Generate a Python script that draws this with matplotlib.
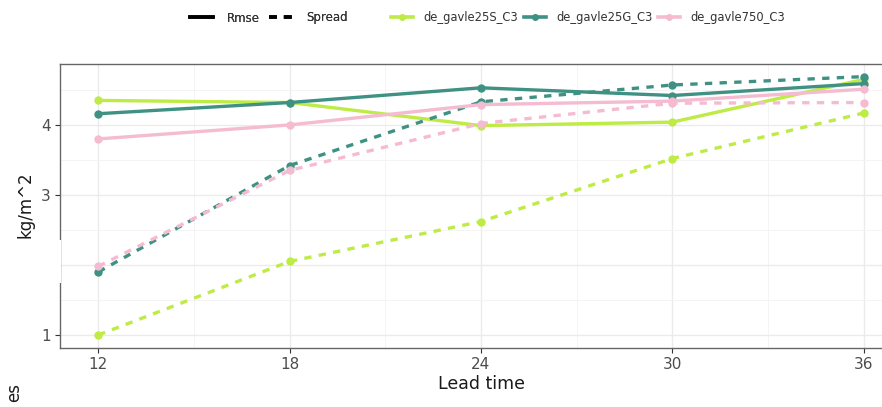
import matplotlib
matplotlib.use("Agg")
import matplotlib.pyplot as plt
from matplotlib.lines import Line2D
from matplotlib.patches import Rectangle

# data
lead_time = [12, 18, 24, 30, 36]
models = ["de_gavle25S_C3", "de_gavle25G_C3", "de_gavle750_C3"]
colours = ["#BEEB45", "#3E9183", "#F5BBD0"]

rmse_25S = [4.35, 4.32, 3.99, 4.04, 4.65]
rmse_25G = [4.16, 4.32, 4.53, 4.42, 4.59]
rmse_750 = [3.80, 4.00, 4.29, 4.34, 4.51]

spread_25S = [1.00, 2.05, 2.62, 3.52, 4.17]
spread_25G = [1.90, 3.42, 4.33, 4.57, 4.69]
spread_750 = [1.98, 3.35, 4.02, 4.31, 4.32]

rmse = [rmse_25S, rmse_25G, rmse_750]
spread = [spread_25S, spread_25G, spread_750]

W, H = 882, 407
fig = plt.figure(figsize=(W / 100, H / 100), dpi=100)

# panel runs past the right edge like in the screenshot
ax = fig.add_axes([60 / W, (H - 348) / H, 842 / W, 284 / H])

dash = (0, (2.2, 2.2))
for i in range(3):
    ax.plot(lead_time, rmse[i], color=colours[i], lw=2.4, marker="o", ms=5,
            zorder=3)
    ax.plot(lead_time, spread[i], color=colours[i], lw=2.4, marker="o", ms=5,
            linestyle=dash, zorder=3)

ax.set_xlim(10.8, 37.2)
ax.set_ylim(0.814, 4.87)
ax.set_xticks(lead_time)
ax.set_xticks([15, 21, 27, 33], minor=True)
ax.set_yticks([1, 2, 3, 4])
ax.set_yticks([1.5, 2.5, 3.5, 4.5], minor=True)
ax.grid(which="major", color="#ebebeb", lw=1.0, zorder=0)
ax.grid(which="minor", color="#f3f3f3", lw=0.6, zorder=0)
ax.set_axisbelow(True)
ax.tick_params(axis="both", which="major", length=3.5, color="#333333",
               labelcolor="#4d4d4d", labelsize=11, pad=3)
ax.tick_params(which="minor", length=0)
for s in ax.spines.values():
    s.set_color("#666666")
    s.set_linewidth(1.0)

ax.set_xlabel("Lead time", fontsize=12.5, color="#1a1a1a", labelpad=2)

# y label (partly hidden in the screenshot)
fig.text(25 / W, 1 - 205 / H, "kg/m^2", rotation=90, fontsize=12,
         color="#1a1a1a", ha="center", va="center")
fig.text(14 / W, 1 - 393 / H, "es", rotation=90, fontsize=12,
         color="#1a1a1a", ha="center", va="center")
# white patch covering part of the left edge
fig.add_artist(Rectangle((0, 1 - 283 / H), 61 / W, 43 / H,
                         transform=fig.transFigure, facecolor="white",
                         edgecolor="none", zorder=10))

# legends at the top
h_type = [Line2D([], [], color="black", lw=2.6),
          Line2D([], [], color="black", lw=2.6, linestyle=(0, (2.2, 1.9)))]
leg1 = fig.legend(h_type, ["Rmse", "Spread"], loc="center",
                  bbox_to_anchor=(269 / W, 1 - 18 / H), ncol=2, frameon=False,
                  fontsize=8.5, handlelength=1.95, columnspacing=0.8,
                  handletextpad=1.2, labelcolor="#333333")
h_mod = [Line2D([], [], color=c, lw=2.6, marker="o", ms=4) for c in colours]
fig.legend(h_mod, models, loc="center", bbox_to_anchor=(588 / W, 1 - 18 / H),
           ncol=3, frameon=False, fontsize=8.3, handlelength=1.9,
           columnspacing=0.5, handletextpad=0.9, labelcolor="#333333")
fig.add_artist(leg1)

fig.savefig("out.png", dpi=100, facecolor="white")
